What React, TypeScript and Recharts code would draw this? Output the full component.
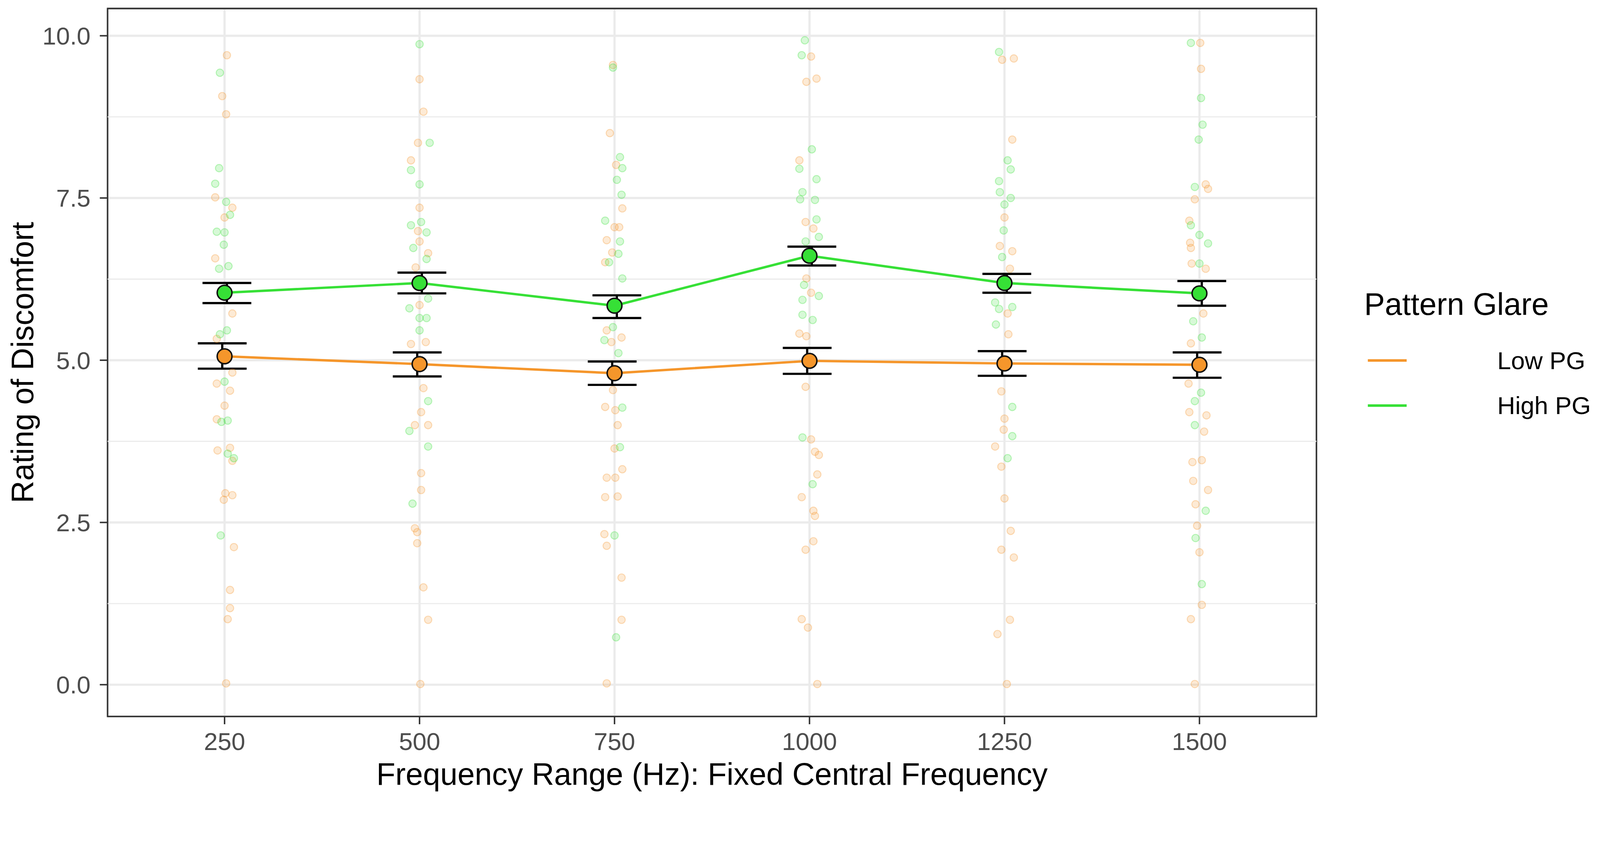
import React from 'react';
import {
  ComposedChart, XAxis, YAxis, CartesianGrid, Scatter, Line, ErrorBar,
  ReferenceArea, ReferenceLine, Label, Legend,
} from 'recharts';

// ---------- data ----------
const freqs = [250, 500, 750, 1000, 1250, 1500];
const yTicks = [0, 2.5, 5, 7.5, 10];
const yMinorTicks = [1.25, 3.75, 6.25, 8.75];

const groupNames = ['Low PG', 'High PG'];

const lowMean = [5.06, 4.94, 4.8, 4.99, 4.95, 4.93];
const lowLower = [4.87, 4.75, 4.62, 4.79, 4.76, 4.73];
const lowUpper = [5.26, 5.12, 4.98, 5.19, 5.14, 5.12];

const highMean = [6.04, 6.19, 5.84, 6.61, 6.19, 6.03];
const highLower = [5.88, 6.03, 5.65, 6.46, 6.04, 5.84];
const highUpper = [6.19, 6.35, 6.0, 6.75, 6.33, 6.22];

// individual (jittered) ratings: [frequency + jitter, rating]
const lowJitter: [number, number][] = [
  [253, 9.7], [247, 9.07], [252, 8.79], [238, 7.51], [260, 7.35], [250, 7.2], [238, 6.57], [260, 5.72],
  [240, 5.33], [260, 4.81], [240, 4.64], [257, 4.53], [250, 4.3], [240, 4.09], [241, 3.61], [257, 3.65],
  [260, 3.45], [251, 2.95], [260, 2.92], [249, 2.85], [262, 2.12], [257, 1.46], [257, 1.18], [254, 1.01], [252, 0.02],
  [500, 9.33], [505, 8.83], [498, 8.35], [489, 8.08], [500, 7.35], [498, 6.99], [500, 6.83], [511, 6.65],
  [495, 6.43], [500, 5.85], [489, 5.25], [508, 5.28], [505, 4.57], [502, 4.2], [494, 4.0], [511, 4.0],
  [502, 3.26], [502, 3.0], [494, 2.41], [497, 2.35], [497, 2.18], [505, 1.5], [511, 1.0], [501, 0.01],
  [748, 9.55], [744, 8.5], [752, 8.01], [760, 7.34], [750, 7.05], [756, 7.05], [740, 6.85], [747, 6.66],
  [738, 6.51], [740, 5.46], [746, 5.28], [759, 5.35], [748, 4.54], [738, 4.28], [751, 4.23], [754, 4.0],
  [750, 3.64], [760, 3.32], [740, 3.19], [751, 3.19], [738, 2.89], [754, 2.9], [737, 2.32], [740, 2.14],
  [759, 1.65], [759, 1.0], [740, 0.02],
  [1002, 9.68], [996, 9.29], [1009, 9.34], [987, 8.08], [995, 7.13], [1005, 7.03], [996, 6.26], [1002, 6.04],
  [987, 5.41], [996, 5.37], [995, 4.59], [1002, 3.78], [1007, 3.59], [1012, 3.54], [1010, 3.24], [990, 2.89],
  [1005, 2.68], [1007, 2.6], [1005, 2.21], [995, 2.08], [990, 1.01], [998, 0.88], [1010, 0.01],
  [1247, 9.63], [1262, 9.65], [1260, 8.4], [1250, 7.2], [1244, 6.76], [1260, 6.68], [1257, 6.41], [1254, 5.72],
  [1255, 5.4], [1246, 4.52], [1250, 4.1], [1249, 3.93], [1238, 3.67], [1246, 3.36], [1250, 2.87], [1258, 2.37],
  [1246, 2.08], [1262, 1.96], [1257, 1.0], [1241, 0.78], [1253, 0.01],
  [1501, 9.89], [1502, 9.49], [1508, 7.71], [1511, 7.64], [1494, 7.48], [1487, 7.15], [1488, 6.81], [1489, 6.73],
  [1490, 6.49], [1508, 6.41], [1505, 5.72], [1489, 5.26], [1486, 4.64], [1487, 4.2], [1509, 4.15], [1506, 3.9],
  [1491, 3.43], [1503, 3.46], [1492, 3.14], [1511, 3.0], [1495, 2.78], [1497, 2.45], [1500, 2.04], [1503, 1.23],
  [1489, 1.01], [1494, 0.01],
];

const highJitter: [number, number][] = [
  [244, 9.43], [243, 7.96], [238, 7.72], [252, 7.44], [257, 7.24], [240, 6.98], [250, 6.97], [249, 6.78],
  [243, 6.41], [255, 6.45], [253, 5.46], [244, 5.4], [250, 4.67], [254, 4.07], [246, 4.05], [254, 3.56],
  [262, 3.49], [245, 2.3],
  [500, 9.87], [513, 8.35], [489, 7.93], [500, 7.71], [489, 7.08], [502, 7.13], [509, 6.97], [492, 6.73],
  [509, 6.56], [487, 5.8], [511, 5.95], [500, 5.65], [509, 5.65], [500, 5.46], [511, 4.37], [487, 3.91],
  [511, 3.67], [491, 2.79],
  [748, 9.51], [757, 8.13], [760, 7.96], [753, 7.78], [759, 7.55], [738, 7.15], [757, 6.83], [755, 6.64],
  [743, 6.51], [760, 6.26], [748, 5.51], [737, 5.31], [755, 5.11], [760, 4.27], [757, 3.66], [750, 2.3], [752, 0.73],
  [994, 9.93], [990, 9.7], [1003, 8.25], [987, 7.95], [1009, 7.79], [991, 7.59], [988, 7.48], [1007, 7.47],
  [1009, 7.17], [1012, 6.9], [995, 6.83], [993, 6.16], [1012, 5.99], [991, 5.93], [991, 5.7], [1004, 5.62],
  [991, 3.81], [1004, 3.09],
  [1243, 9.75], [1254, 8.08], [1258, 7.94], [1243, 7.76], [1244, 7.59], [1258, 7.5], [1250, 7.4], [1249, 7.0],
  [1247, 6.59], [1238, 5.89], [1260, 5.82], [1243, 5.79], [1239, 5.55], [1260, 4.28], [1260, 3.83], [1254, 3.49],
  [1489, 9.89], [1502, 9.04], [1504, 8.63], [1499, 8.4], [1494, 7.67], [1489, 7.08], [1500, 6.93], [1511, 6.8],
  [1500, 6.49], [1492, 5.6], [1503, 5.35], [1502, 4.5], [1494, 4.37], [1494, 4.0], [1508, 2.68], [1495, 2.26], [1503, 1.55],
];

// ---------- styling ----------
const W = 4328;
const H = 2158;
const LOW_COLOR = '#F5962B';
const HIGH_COLOR = '#36E036';
const GRID = '#EBEBEB';
const FONT = '"Liberation Sans", Arial, Helvetica, sans-serif';
const ERR_DODGE = 3; // small horizontal dodge of the error bars (Hz)

const toPoints = (arr: [number, number][]) => arr.map(([x, y]) => ({ x, y }));
const lowPoints = toPoints(lowJitter);
const highPoints = toPoints(highJitter);

const lowLine = freqs.map((f, i) => ({ x: f, y: lowMean[i] }));
const highLine = freqs.map((f, i) => ({ x: f, y: highMean[i] }));
const lowErr = freqs.map((f, i) => ({
  x: f - ERR_DODGE, y: lowMean[i], err: [lowMean[i] - lowLower[i], lowUpper[i] - lowMean[i]],
}));
const highErr = freqs.map((f, i) => ({
  x: f + ERR_DODGE, y: highMean[i], err: [highMean[i] - highLower[i], highUpper[i] - highMean[i]],
}));

const jitterShape = (color: string) => (props: any) => (
  <circle cx={props.cx} cy={props.cy} r={10} fill={color} fillOpacity={0.2}
    stroke={color} strokeOpacity={0.32} strokeWidth={2.5} />
);
const meanShape = (color: string) => (props: any) => (
  <circle cx={props.cx} cy={props.cy} r={20} fill={color} stroke="#111" strokeWidth={4} />
);
const emptyShape = () => <g />;

const LegendBox = () => {
  const colors = [LOW_COLOR, HIGH_COLOR];
  return (
    <svg width={648} height={450} style={{ overflow: 'visible' }}>
      <text x={10} y={92} fontSize={84} fontFamily={FONT} fill="#000">Pattern Glare</text>
      {groupNames.map((name, i) => (
        <g key={name}>
          <line x1={20} x2={125} y1={215 + i * 122} y2={215 + i * 122} stroke={colors[i]} strokeWidth={7} />
          <text x={370} y={215 + i * 122} dominantBaseline="central" fontSize={67} fontFamily={FONT} fill="#000">{name}</text>
        </g>
      ))}
    </svg>
  );
};

const YTitle = (props: any) => {
  const vb = props.viewBox || { x: 41, y: 23, width: 250, height: 1915 };
  const cx = vb.x + 20;
  const cy = vb.y + vb.height / 2;
  return (
    <text x={cx} y={cy} transform={`rotate(-90 ${cx} ${cy})`} textAnchor="middle"
      dominantBaseline="central" fontSize={84} fontFamily={FONT} fill="#000">
      Rating of Discomfort
    </text>
  );
};

export default function App() {
  const vw = typeof window !== 'undefined' ? window.innerWidth : W;
  const vh = typeof window !== 'undefined' ? window.innerHeight : H;
  const s = Math.min(1, vw / W, vh / H);
  return (
    <div style={{ position: 'absolute', left: 0, top: 0, width: W * s, height: H * s, overflow: 'hidden', background: '#fff' }}>
      <div style={{ width: W, height: H, transform: `scale(${s})`, transformOrigin: '0 0', fontFamily: FONT }}>
        <ComposedChart width={W} height={H} margin={{ top: 23, right: 767, left: 41, bottom: 20 }}>
          <CartesianGrid stroke={GRID} strokeWidth={6} />
          {yMinorTicks.map((v) => (
            <ReferenceLine key={v} y={v} stroke={GRID} strokeWidth={3} />
          ))}
          <XAxis type="number" dataKey="x" domain={[100, 1650]} ticks={freqs} allowDataOverflow interval={0}
            height={200} tickSize={21} tickMargin={22} axisLine={false}
            tickLine={{ stroke: '#333333', strokeWidth: 4 }}
            tick={{ fill: '#4D4D4D', fontSize: 67, fontFamily: FONT }}>
            <Label value="Frequency Range (Hz): Fixed Central Frequency" position="insideBottom" offset={15}
              style={{ fontSize: 84, fill: '#000', fontFamily: FONT }} />
          </XAxis>
          <YAxis type="number" dataKey="y" domain={[-0.49, 10.42]} ticks={yTicks} allowDataOverflow interval={0}
            width={250} tickSize={21} tickMargin={25} axisLine={false}
            tickFormatter={(v: number) => v.toFixed(1)}
            tickLine={{ stroke: '#333333', strokeWidth: 4 }}
            tick={{ fill: '#4D4D4D', fontSize: 67, fontFamily: FONT }}>
            <Label content={<YTitle />} />
          </YAxis>

          <Scatter name="Low PG points" data={lowPoints} shape={jitterShape(LOW_COLOR)} isAnimationActive={false} legendType="none" />
          <Scatter name="High PG points" data={highPoints} shape={jitterShape(HIGH_COLOR)} isAnimationActive={false} legendType="none" />

          <Line data={lowLine} dataKey="y" type="linear" stroke={LOW_COLOR} strokeWidth={6.5} dot={false} isAnimationActive={false} legendType="none" />
          <Line data={highLine} dataKey="y" type="linear" stroke={HIGH_COLOR} strokeWidth={6.5} dot={false} isAnimationActive={false} legendType="none" />

          <Scatter name="Low PG mean" data={lowLine} shape={meanShape(LOW_COLOR)} isAnimationActive={false} legendType="none" />
          <Scatter name="High PG mean" data={highLine} shape={meanShape(HIGH_COLOR)} isAnimationActive={false} legendType="none" />

          <Scatter name="Low PG se" data={lowErr} shape={emptyShape} isAnimationActive={false} legendType="none">
            <ErrorBar dataKey="err" direction="y" width={66} stroke="#000" strokeWidth={6} isAnimationActive={false} />
          </Scatter>
          <Scatter name="High PG se" data={highErr} shape={emptyShape} isAnimationActive={false} legendType="none">
            <ErrorBar dataKey="err" direction="y" width={66} stroke="#000" strokeWidth={6} isAnimationActive={false} />
          </Scatter>

          <ReferenceArea x1={100} x2={1650} y1={-0.49} y2={10.42} fill="none" stroke="#333333" strokeWidth={4} ifOverflow="visible" />

          <Legend layout="vertical" align="center" verticalAlign="middle" content={<LegendBox />}
            wrapperStyle={{ left: 3680, top: 760, width: 648, height: 450 }} />
        </ComposedChart>
      </div>
    </div>
  );
}
